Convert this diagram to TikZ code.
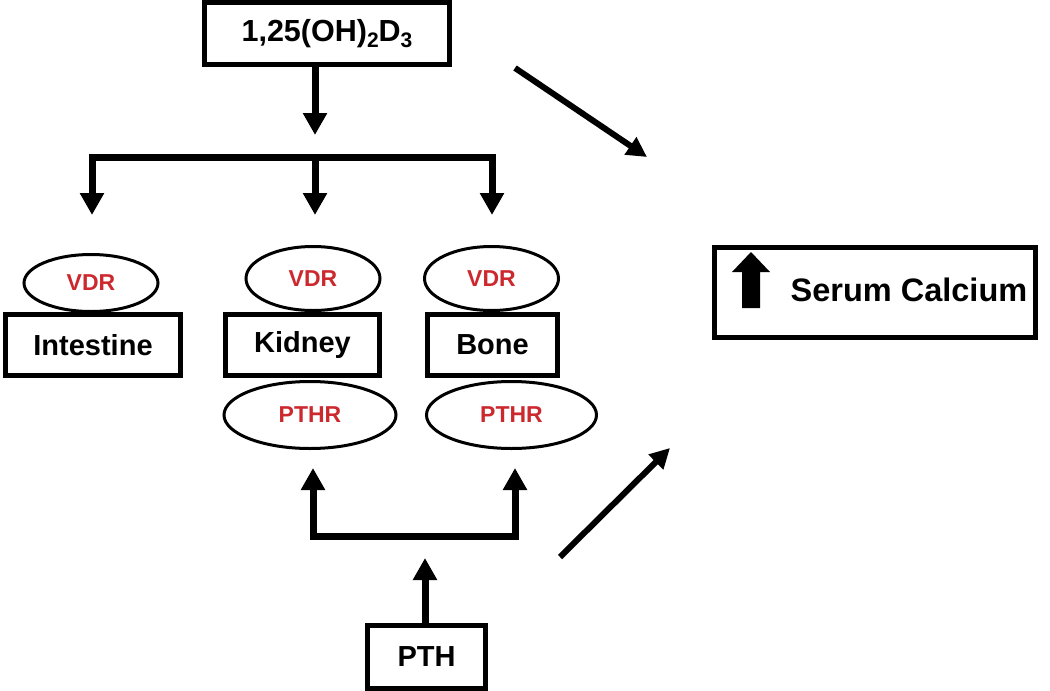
\documentclass[tikz,border=0pt]{standalone}
\usepackage{fontspec}
\setmainfont{Liberation Sans}
\usetikzlibrary{arrows.meta,shapes.geometric}
\definecolor{rcol}{RGB}{204,41,47}
\begin{document}
\begin{tikzpicture}[x=1pt,y=-1pt,
  box/.style={draw,line width=5pt,inner sep=0pt,font=\fontsize{29}{29}\selectfont\bfseries},
  rec/.style={draw,ellipse,line width=3pt,inner sep=0pt,text=rcol,font=\fontsize{23}{23}\selectfont\bfseries},
  conn/.style={line width=7pt,-{Triangle[width=23pt,length=22pt]}},
  bar/.style={line width=7pt},
  diag/.style={line width=6pt,-{Triangle[width=20pt,length=20pt]}}]
\useasboundingbox (0,0) rectangle (1050,691);
% top box
\node[box,minimum width=245pt,minimum height=62pt,font=\fontsize{30.5}{30.5}\selectfont\bfseries] (top) at (327,33.5)
  {1,25(OH){\fontsize{21}{21}\selectfont\raisebox{-6pt}{2}}D{\fontsize{21}{21}\selectfont\raisebox{-6pt}{3}}};
% tissues
\node[box,minimum width=175pt,minimum height=61pt] (int) at (93,345) {Intestine};
\node[box,minimum width=154pt,minimum height=61pt] (kid) at (302.5,345) {Kidney};
\node[box,minimum width=130pt,minimum height=61pt] (bone) at (492.5,345) {Bone};
% receptors
\node[rec,minimum width=134pt,minimum height=57pt] (vdri) at (91,283) {VDR};
\node[rec,minimum width=134pt,minimum height=64pt] (vdrk) at (313,278.5) {VDR};
\node[rec,minimum width=134pt,minimum height=64pt] (vdrb) at (491.5,278.5) {VDR};
\node[rec,minimum width=172pt,minimum height=67pt] (pthrk) at (310,415) {PTHR};
\node[rec,minimum width=170pt,minimum height=67pt] (pthrb) at (511.5,415) {PTHR};
% PTH
\node[box,minimum width=118pt,minimum height=63pt] (pth) at (426.5,657) {PTH};
% serum calcium
\node[box,minimum width=321pt,minimum height=90pt] (serum) at (875,292.5) {};
\node[font=\fontsize{32.5}{32.5}\selectfont\bfseries,inner sep=0pt] (serumtxt) at (909,290) {Serum Calcium};
\fill (742,308) -- (742,272) -- (732,272) -- (751,252) -- (770,272) -- (760,272) -- (760,308) -- cycle;
% top bracket
\coordinate (bl) at (92,157);
\coordinate (bm) at (315,157);
\coordinate (br) at (492,157);
\coordinate (tm) at (315,135);
\coordinate (tl) at (92,215);
\coordinate (tc) at (315,215);
\coordinate (tr) at (492,215);
\draw[conn] (top.south -| bm) -- (tm);
\draw[bar] ([xshift=-3.5pt]bl) -- ([xshift=3.5pt]br);
\draw[conn] (bl) -- (tl);
\draw[conn] (bm) -- (tc);
\draw[conn] (br) -- (tr);
% PTH bracket
\coordinate (pl) at (313,536);
\coordinate (pr) at (515,536);
\coordinate (pm) at (425,558);
\coordinate (ul) at (313,468);
\coordinate (ur) at (515,468);
\draw[conn] (pth.north -| pm) -- (pm);
\draw[bar] ([xshift=-3.5pt]pl) -- ([xshift=3.5pt]pr);
\draw[conn] (pl) -- (ul);
\draw[conn] (pr) -- (ur);
% diagonal arrows
\coordinate (d1s) at (515,68);
\coordinate (d1e) at (647,157);
\coordinate (d2s) at (560,557);
\coordinate (d2e) at (670,448);
\draw[diag] (d1s) -- (d1e);
\draw[diag] (d2s) -- (d2e);
\end{tikzpicture}
\end{document}
